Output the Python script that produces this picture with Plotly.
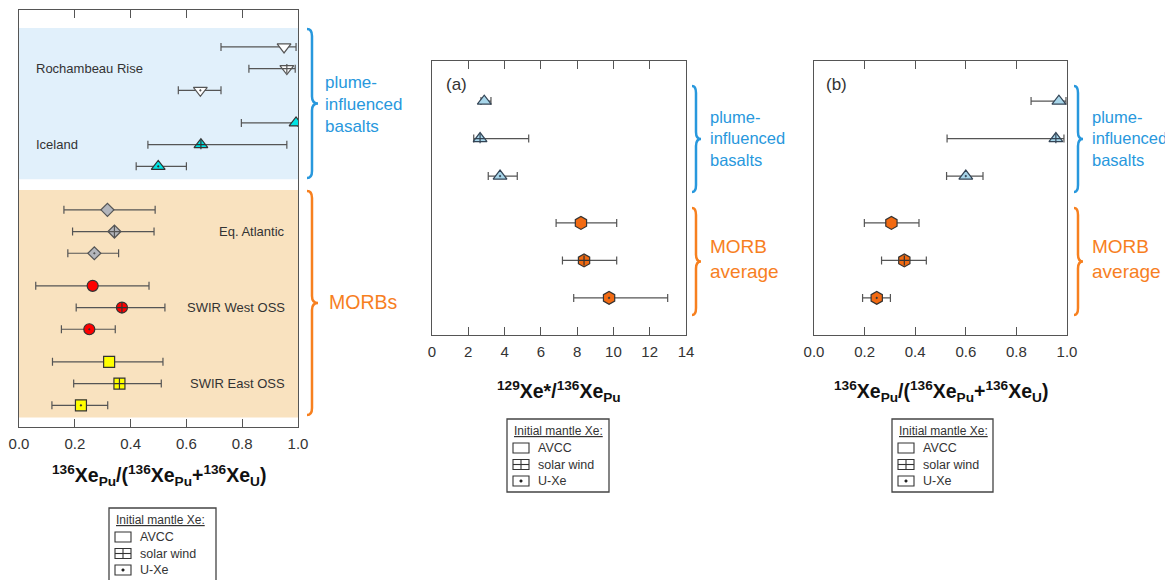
import plotly.graph_objects as go

# ---------------- data ----------------
variants = ["AVCC", "solar wind", "U-Xe"]

left_groups = ["Rochambeau Rise", "Iceland", "Eq. Atlantic", "SWIR West OSS", "SWIR East OSS"]
left_val = [[0.950, 0.960, 0.650],
            [0.993, 0.652, 0.499],
            [0.317, 0.342, 0.270],
            [0.264, 0.369, 0.252],
            [0.323, 0.360, 0.222]]
left_lo = [[0.724, 0.824, 0.571],
           [0.797, 0.462, 0.420],
           [0.161, 0.192, 0.175],
           [0.060, 0.205, 0.152],
           [0.120, 0.196, 0.118]]
left_hi = [[0.993, 0.990, 0.724],
           [1.000, 0.960, 0.600],
           [0.488, 0.484, 0.357],
           [0.466, 0.523, 0.345],
           [0.516, 0.510, 0.318]]

ab_groups = ["plume-influenced basalts", "MORB average"]
a_val = [[2.88, 2.65, 3.75], [8.21, 8.38, 9.76]]
a_lo = [[2.70, 2.30, 3.10], [6.84, 7.19, 7.81]]
a_hi = [[3.25, 5.33, 4.70], [10.18, 10.18, 12.99]]

b_val = [[0.968, 0.956, 0.600], [0.306, 0.357, 0.248]]
b_lo = [[0.858, 0.526, 0.524], [0.199, 0.267, 0.192]]
b_hi = [[0.996, 0.988, 0.668], [0.415, 0.444, 0.302]]

left_ticks = [0.0, 0.2, 0.4, 0.6, 0.8, 1.0]
a_ticks = [0, 2, 4, 6, 8, 10, 12, 14]
b_ticks = [0.0, 0.2, 0.4, 0.6, 0.8, 1.0]

# ---------------- styling ----------------
W, H = 1173, 580
OFF = 8  # page offset of the plot div
FONT = "Liberation Sans, Arial, sans-serif"
TXT = "#333333"
BLUE = "#2898dd"
ORANGE = "#f7801f"
FRAME = "#555555"


def PX(x):
    return (x - OFF) / W


def PY(y):
    return 1 - (y - OFF) / H


# (base symbol, fill, outline, size, builtin cross available)
left_styles = [("triangle-down", "#ffffff", "#555555", 12, False),
               ("triangle-up", "#00e3e3", "#333333", 12, False),
               ("diamond", "#b3b5bb", "#555555", 10, True),
               ("circle", "#ff0000", "#333333", 11, True),
               ("square", "#ffff00", "#333333", 11, True)]
ab_styles = [("triangle-up", "#a8d6ea", "#334455", 12, False),
             ("hexagon", "#f26a12", "#333333", 13, False)]


def row_positions(n_groups, start, gaps):
    pos, y = [], start
    for g in range(n_groups):
        pos.append([y, y + 1, y + 2])
        y += 2 + (gaps[g] if g < len(gaps) else 0)
    return pos


left_rows = row_positions(5, 1.7, [1.5, 2.0, 1.5, 1.5])
ab_rows = row_positions(2, 1.0, [1.25])

fig = go.Figure()


def add_group(xa, ya, vals, lo, hi, ys, style):
    base, fill, line, size, builtin = style
    sw = base + "-cross" if builtin else base
    fig.add_trace(go.Scatter(
        x=vals, y=ys, xaxis=xa, yaxis=ya, mode="markers",
        marker=dict(symbol=[base, sw, base + "-dot"], size=size, color=fill,
                    line=dict(color=line, width=1.2)),
        error_x=dict(type="data", symmetric=False,
                     array=[h - v for h, v in zip(hi, vals)],
                     arrayminus=[v - l for v, l in zip(vals, lo)],
                     color="#555555", thickness=1.2, width=4),
        hoverinfo="x", showlegend=False))
    if not builtin:
        fig.add_trace(go.Scatter(
            x=[vals[1]], y=[ys[1]], xaxis=xa, yaxis=ya, mode="markers",
            marker=dict(symbol="cross-thin", size=size * 0.55,
                        line=dict(color=line, width=1.2)),
            hoverinfo="skip", showlegend=False))


for g in range(5):
    add_group("x", "y", left_val[g], left_lo[g], left_hi[g], left_rows[g], left_styles[g])
for g in range(2):
    add_group("x2", "y2", a_val[g], a_lo[g], a_hi[g], ab_rows[g], ab_styles[g])
    add_group("x3", "y3", b_val[g], b_lo[g], b_hi[g], ab_rows[g], ab_styles[g])

xcommon = dict(showline=True, linecolor=FRAME, linewidth=1.2, mirror="ticks",
               ticks="inside", ticklen=8, tickcolor=FRAME, tickwidth=1.2,
               showgrid=False, zeroline=False, automargin=False,
               tickfont=dict(size=15, color=TXT, family=FONT), ticklabelstandoff=3)
ycommon = dict(showline=True, linecolor=FRAME, linewidth=1.2, mirror=True, automargin=False,
               ticks="", showticklabels=False, showgrid=False, zeroline=False)

fig.update_layout(
    width=W, height=H, autosize=False,
    margin=dict(l=0, r=0, t=0, b=0, pad=0),
    paper_bgcolor="white", plot_bgcolor="white",
    showlegend=False,
    font=dict(family=FONT, color=TXT),
    xaxis=dict(xcommon, domain=[PX(19), PX(298)], range=[0, 1], anchor="y",
               tickvals=left_ticks, ticktext=[f"{t:.1f}" for t in left_ticks]),
    yaxis=dict(ycommon, domain=[PY(427), PY(10)], range=[19.2, 0], anchor="x"),
    xaxis2=dict(xcommon, domain=[PX(432), PX(686)], range=[0, 14], anchor="y2",
                tickvals=a_ticks, ticktext=[str(t) for t in a_ticks]),
    yaxis2=dict(ycommon, domain=[PY(335), PY(61)], range=[7.24, -0.07], anchor="x2"),
    xaxis3=dict(xcommon, domain=[PX(814), PX(1067)], range=[0, 1], anchor="y3",
                tickvals=b_ticks, ticktext=[f"{t:.1f}" for t in b_ticks]),
    yaxis3=dict(ycommon, domain=[PY(335), PY(61)], range=[7.24, -0.07], anchor="x3"),
)

shapes = []
annotations = []

# background bands in the left panel
shapes.append(dict(type="rect", xref="x domain", yref="y", x0=0, x1=1, y0=0.83, y1=7.79,
                   fillcolor="#e1f0fb", line=dict(width=0), layer="below"))
shapes.append(dict(type="rect", xref="x domain", yref="y", x0=0, x1=1, y0=8.29, y1=18.76,
                   fillcolor="#f9e2bf", line=dict(width=0), layer="below"))


def brace(x0, x1, x2, top, bot, color):
    mid = (top + bot) / 2
    r = 7
    pts = lambda x, y: f"{PX(x):.5f},{PY(y):.5f}"
    path = (f"M {pts(x0, top)} Q {pts(x1, top)} {pts(x1, top + r)} "
            f"L {pts(x1, mid - r)} Q {pts(x1, mid)} {pts(x2, mid)} "
            f"Q {pts(x1, mid)} {pts(x1, mid + r)} "
            f"L {pts(x1, bot - r)} Q {pts(x1, bot)} {pts(x0, bot)}")
    shapes.append(dict(type="path", xref="paper", yref="paper", path=path,
                       line=dict(color=color, width=2.5)))


def ptext(x, y, text, size, color, xanchor="left", align="left"):
    annotations.append(dict(xref="paper", yref="paper", x=PX(x), y=PY(y), text=text,
                            showarrow=False, xanchor=xanchor, yanchor="middle", align=align,
                            font=dict(size=size, color=color, family=FONT)))


# braces + labels
brace(307, 312, 318, 29, 178, BLUE)
brace(307, 312, 318, 191, 415, ORANGE)
ptext(323, 104, "plume-<br>influenced<br>basalts", 17, BLUE)
ptext(327, 302, "MORBs", 19.5, ORANGE)

for xo in (0, 382):
    brace(692 + xo, 696 + xo, 701 + xo, 86, 192, BLUE)
    brace(692 + xo, 696 + xo, 701 + xo, 208, 315, ORANGE)
    ptext(708 + xo, 138, "plume-<br>influenced<br>basalts", 16.5, BLUE)
    ptext(708 + xo, 259, "MORB<br>average", 19, ORANGE)

# group labels in the left panel
for g, name in enumerate(left_groups):
    right = g >= 2
    annotations.append(dict(xref="x", yref="y", x=0.962 if right else 0.055,
                            y=left_rows[g][1], text=name, showarrow=False,
                            xanchor="right" if right else "left", yanchor="middle",
                            font=dict(size=13, color=TXT, family=FONT)))

# panel letters
ptext(444, 84, "(a)", 17, TXT)
ptext(824, 84, "(b)", 17, TXT)

# axis titles
ratio_title = ("<b><sup>136</sup>Xe<sub>Pu</sub>/(<sup>136</sup>Xe<sub>Pu</sub>+"
               "<sup>136</sup>Xe<sub>U</sub>)</b>")
ptext(158.5, 476, ratio_title, 19.5, "#111111", xanchor="center", align="center")
ptext(559, 391, "<b><sup>129</sup>Xe*/<sup>136</sup>Xe<sub>Pu</sub></b>", 19.5, "#111111",
      xanchor="center", align="center")
ptext(940.5, 391, ratio_title, 19.5, "#111111", xanchor="center", align="center")


# legends ("Initial mantle Xe:")
def legend_box(bx0, by0, bx1, by1):
    shapes.append(dict(type="rect", xref="paper", yref="paper",
                       x0=PX(bx0), x1=PX(bx1), y0=PY(by1), y1=PY(by0),
                       line=dict(color="#444444", width=1.3), fillcolor="white"))
    ptext(bx0 + 5, by0 + 12, "<u>Initial mantle Xe:</u>", 12, TXT)
    for i, lab in enumerate(variants):
        cy = by0 + 29 + i * 16.5
        ix0, ix1 = bx0 + 6, bx0 + 22
        shapes.append(dict(type="rect", xref="paper", yref="paper",
                           x0=PX(ix0), x1=PX(ix1), y0=PY(cy + 5), y1=PY(cy - 5),
                           line=dict(color="#333333", width=1.1)))
        if i == 1:
            shapes.append(dict(type="line", xref="paper", yref="paper",
                               x0=PX(ix0), x1=PX(ix1), y0=PY(cy), y1=PY(cy),
                               line=dict(color="#333333", width=1.1)))
            shapes.append(dict(type="line", xref="paper", yref="paper",
                               x0=PX((ix0 + ix1) / 2), x1=PX((ix0 + ix1) / 2),
                               y0=PY(cy + 5), y1=PY(cy - 5),
                               line=dict(color="#333333", width=1.1)))
        if i == 2:
            shapes.append(dict(type="circle", xref="paper", yref="paper",
                               x0=PX((ix0 + ix1) / 2 - 1.3), x1=PX((ix0 + ix1) / 2 + 1.3),
                               y0=PY(cy + 1.3), y1=PY(cy - 1.3),
                               fillcolor="#222222", line=dict(color="#222222", width=0.5)))
        ptext(bx0 + 29, cy, lab, 12.5, TXT)


legend_box(109, 508, 216, 595)
legend_box(507, 419, 609, 492)
legend_box(892, 419, 993, 492)

fig.update_layout(shapes=shapes, annotations=annotations)
fig.write_html("out.html")
